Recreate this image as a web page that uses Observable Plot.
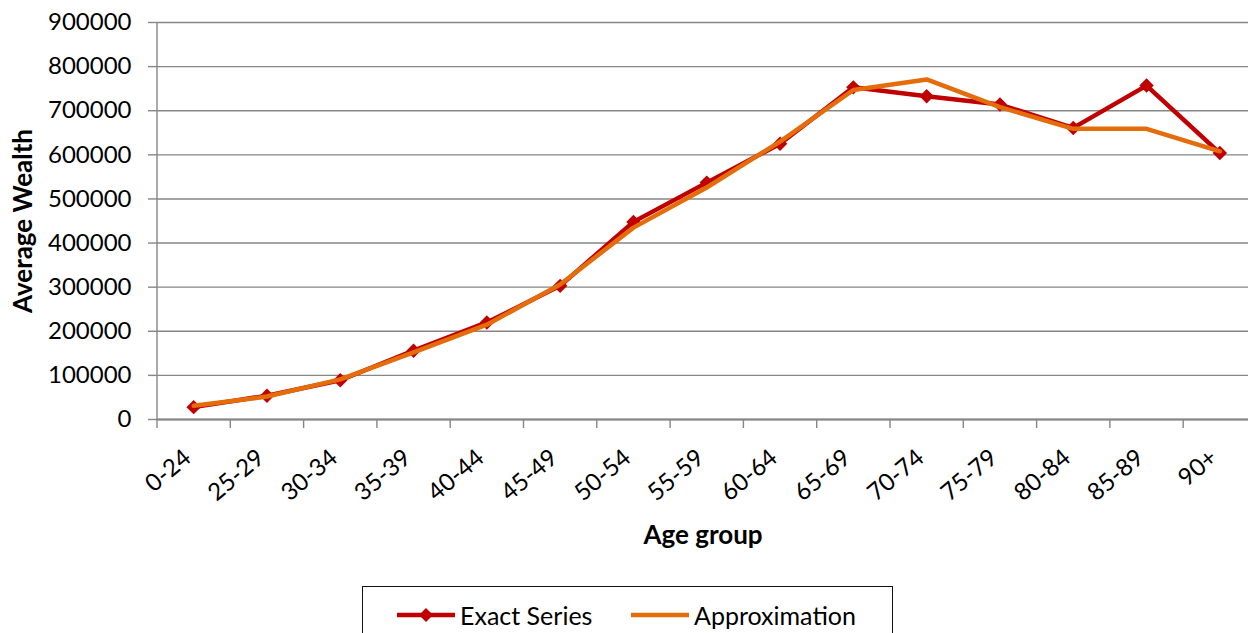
<!DOCTYPE html>
<html>
<head>
<meta charset="utf-8">
<script src="https://cdn.jsdelivr.net/npm/d3@7"></script>
<script src="https://cdn.jsdelivr.net/npm/@observablehq/plot@0.6"></script>
<style>
  html, body { margin: 0; padding: 0; background: #fff; width: 1248px; height: 633px; overflow: hidden; }
  #chart { position: absolute; left: 0; top: 0; }
  #legend { position: absolute; left: 362px; top: 586px; width: 531px; height: 60px; border: 1.2px solid #111; box-sizing: border-box; font-family: Lato, sans-serif; font-size: 25px; color: #000; }
  .item { position: absolute; top: 0; height: 56px; display: flex; align-items: center; }
  .item svg { margin-right: 5px; }
</style>
</head>
<body>
<div id="chart"></div>
<div id="legend">
  <div class="item" style="left:34px; top:0px;">
    <svg width="58" height="16"><line x1="0" y1="8" x2="58" y2="8" stroke="#C00000" stroke-width="4.5"/><path d="M29,1 L36,8 L29,15 L22,8 Z" fill="#C00000"/></svg>
    <span>Exact Series</span>
  </div>
  <div class="item" style="left:268px; top:0px;">
    <svg width="58" height="16"><line x1="0" y1="8" x2="58" y2="8" stroke="#E46C0A" stroke-width="4.5"/></svg>
    <span>Approximation</span>
  </div>
</div>
<script>
const ageGroups = ["0-24","25-29","30-34","35-39","40-44","45-49","50-54","55-59","60-64","65-69","70-74","75-79","80-84","85-89","90+"];
const exactSeries = [28000, 54000, 89000, 156000, 220000, 303000, 448000, 537000, 625000, 753000, 733000, 714000, 661000, 757000, 604000];
const approximation = [31000, 52000, 91000, 152000, 215000, 306000, 435000, 526000, 630000, 747000, 771000, 708000, 659000, 659000, 608000];
const yTicks = [0, 100000, 200000, 300000, 400000, 500000, 600000, 700000, 800000, 900000];

const data = ageGroups.map((age, i) => ({i, age, exact: exactSeries[i], approx: approximation[i]}));
const boundaries = d3.range(-0.5, ageGroups.length, 1);

const chart = Plot.plot({
  width: 1248,
  height: 580,
  marginLeft: 157,
  marginRight: 0,
  marginTop: 22,
  marginBottom: 161,
  style: {fontFamily: "Lato, sans-serif", fontSize: "24px", color: "#000", background: "#fff", overflow: "visible"},
  x: {type: "linear", domain: [-0.5, ageGroups.length - 0.5], range: [156.5, 156.5 + 73.3 * ageGroups.length], axis: null},
  y: {domain: [0, 900000], axis: null},
  marks: [
    Plot.gridY(yTicks, {stroke: "#868686", strokeOpacity: 1, strokeWidth: 1.4}),
    Plot.axisY(yTicks, {tickSize: 9, tickPadding: 17, stroke: "#868686", strokeWidth: 1.4, fill: "#000", fontSize: 24, tickFormat: d => String(d), label: null}),
    Plot.ruleX([-0.5], {stroke: "#868686", strokeWidth: 1.4}),
    Plot.ruleY([0], {stroke: "#868686", strokeWidth: 1.8}),
    Plot.axisX(boundaries, {tickSize: 9, stroke: "#868686", strokeWidth: 1.4, tickFormat: () => "", label: null}),
    Plot.text(data, {x: "i", text: "age", frameAnchor: "bottom", lineAnchor: "middle", rotate: -40, textAnchor: "end", dx: -6, dy: 35, fontSize: 24, fill: "#000"}),
    Plot.line(data, {x: "i", y: "exact", stroke: "#C00000", strokeWidth: 4.5}),
    Plot.dot(data, {x: "i", y: "exact", symbol: "diamond2", r: 6.5, fill: "#C00000"}),
    Plot.line(data, {x: "i", y: "approx", stroke: "#E46C0A", strokeWidth: 4.5}),
    Plot.text(["Average Wealth"], {text: d => d, frameAnchor: "left", textAnchor: "middle", lineAnchor: "middle", rotate: -90, dx: -134, fontWeight: "bold", fontSize: 26, fill: "#000"}),
    Plot.text(["Age group"], {text: d => d, frameAnchor: "bottom", lineAnchor: "middle", dy: 116, fontWeight: "bold", fontSize: 26, fill: "#000"})
  ]
});
document.getElementById("chart").appendChild(chart);
</script>
</body>
</html>
